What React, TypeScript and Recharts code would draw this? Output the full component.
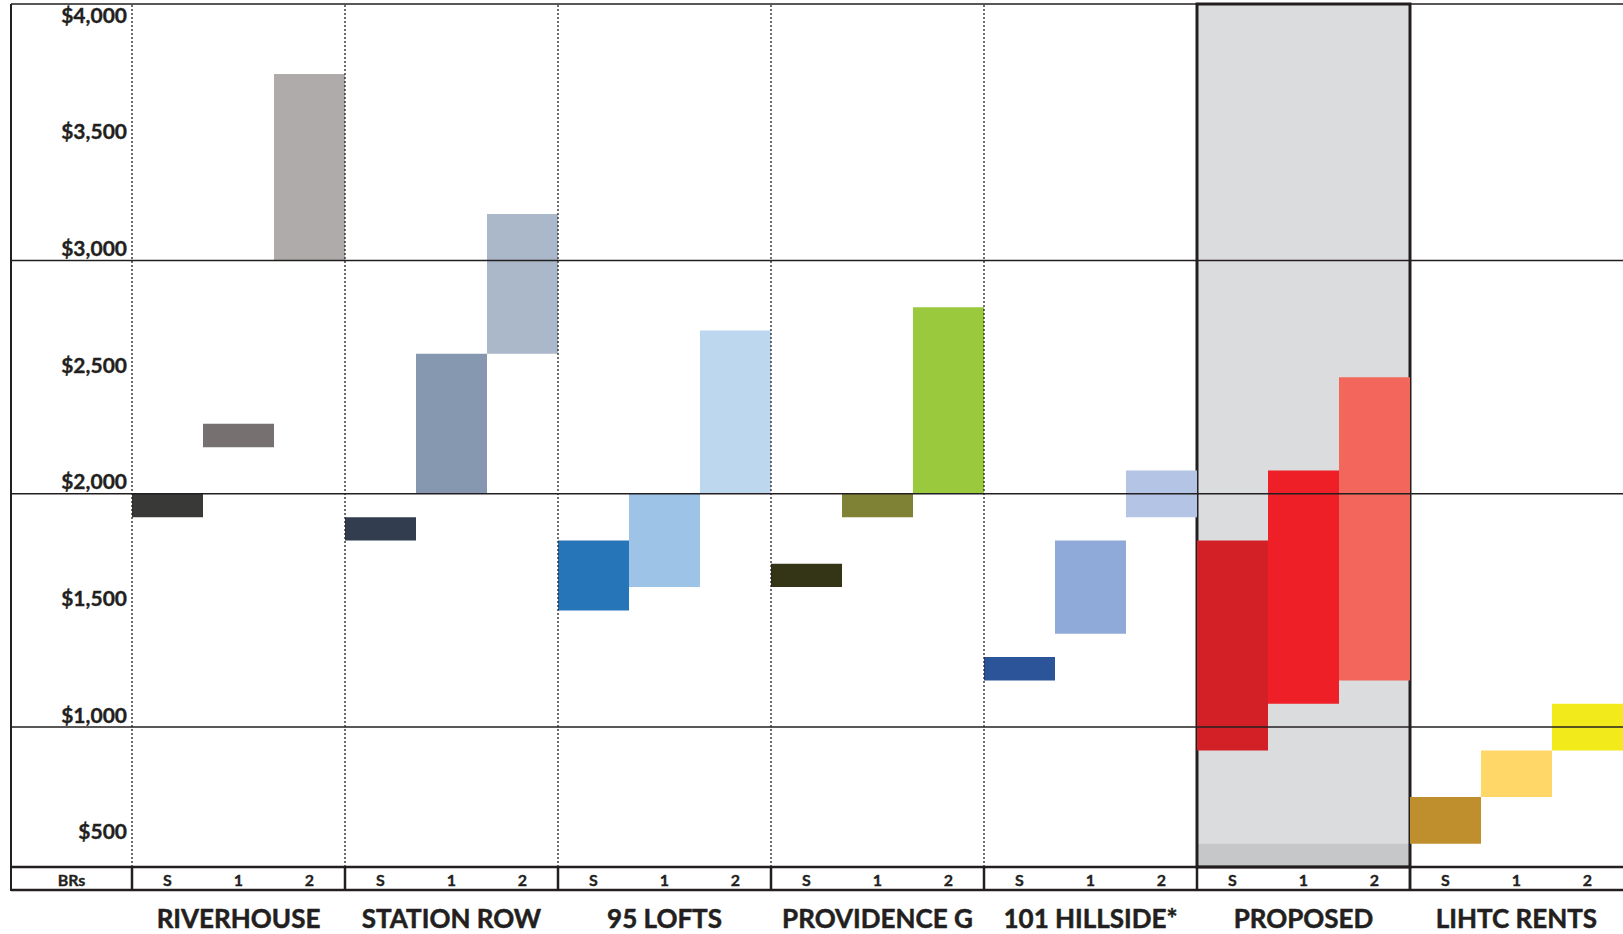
import { BarChart, Bar, Cell, XAxis, YAxis, ReferenceLine, ReferenceArea } from 'recharts'

// rent ranges per property, one entry per unit type (studio, 1 BR, 2 BR)
const groups = ['RIVERHOUSE', 'STATION ROW', '95 LOFTS', 'PROVIDENCE G', '101 HILLSIDE*', 'PROPOSED', 'LIHTC RENTS']
const units = ['S', '1', '2']

const lowRents = [
  [1900, 2200, 3000],
  [1800, 2000, 2600],
  [1500, 1600, 2000],
  [1600, 1900, 2000],
  [1200, 1400, 1900],
  [900, 1100, 1200],
  [500, 700, 900],
]

const highRents = [
  [2000, 2300, 3800],
  [1900, 2600, 3200],
  [1800, 2000, 2700],
  [1700, 2000, 2800],
  [1300, 1800, 2100],
  [1800, 2100, 2500],
  [700, 900, 1100],
]

const barColors = [
  ['#393937', '#767170', '#afabaa'],
  ['#323e50', '#8697b0', '#abb8ca'],
  ['#2675b8', '#9dc3e6', '#bdd8ee'],
  ['#333516', '#7f8235', '#9bc93e'],
  ['#2b5598', '#8faad8', '#b4c4e4'],
  ['#d32026', '#ee1f26', '#f2665c'],
  ['#c08f2d', '#fed768', '#f2ea1a'],
]

const yTicks = [500, 1000, 1500, 2000, 2500, 3000, 3500, 4000]
const gridValues = [1000, 2000, 3000]
const yDomain = [400, 4100]

const W = 1623
const H = 934
const FRAME_LEFT = 11
const Y_AXIS_W = 132
const X_AXIS_H = 67
const TOP = 4
const ROW_H = 23
const INK = '#231f20'
const FONT = 'Lato, "Open Sans", sans-serif'

const data = groups.flatMap((group, gi) =>
  units.map((unit, ui) => ({
    key: `${group}|${unit}`,
    group,
    unit,
    gi,
    ui,
    range: [lowRents[gi][ui], highRents[gi][ui]],
    color: barColors[gi][ui],
  }))
)

const plotBottom = H - X_AXIS_H
const tableBottom = plotBottom + ROW_H
const bandW = (W - Y_AXIS_W) / data.length
const proposed = groups[5]

const boldText = {
  fontFamily: FONT,
  fontWeight: 700,
  fill: INK,
  stroke: INK,
  strokeWidth: 0.35,
  textAnchor: 'middle' as const,
  dominantBaseline: 'central' as const,
}

function RentTick({ y, payload }: any) {
  return (
    <text {...boldText} x={Y_AXIS_W - 5} y={y - 13} textAnchor="end" fontSize={21}>
      ${Number(payload.value).toLocaleString('en-US')}
    </text>
  )
}

function UnitTick({ x, payload }: any) {
  const row = data.find(d => d.key === payload.value)
  if (!row) return null
  const half = bandW / 2
  const line = { stroke: INK, strokeWidth: 2.5 }
  const textY = plotBottom + ROW_H / 2 + 1
  return (
    <g>
      {row.gi === 0 && row.ui === 0 && (
        <g>
          <line x1={FRAME_LEFT} x2={x - half} y1={plotBottom} y2={plotBottom} {...line} />
          <line x1={FRAME_LEFT} x2={x - half} y1={tableBottom} y2={tableBottom} {...line} />
          <line x1={FRAME_LEFT} x2={FRAME_LEFT} y1={TOP} y2={tableBottom + 1} stroke={INK} strokeWidth={2} />
          <text {...boldText} x={(FRAME_LEFT + x - half) / 2} y={textY} fontSize={16}>
            BRs
          </text>
        </g>
      )}
      <line x1={x - half} x2={x + half} y1={plotBottom} y2={plotBottom} {...line} />
      <line x1={x - half} x2={x + half} y1={tableBottom} y2={tableBottom} {...line} />
      {row.ui === 0 && <line x1={x - half} x2={x - half} y1={plotBottom} y2={tableBottom} {...line} />}
      {row.group === proposed && row.ui === 2 && (
        <line x1={x + half} x2={x + half} y1={plotBottom} y2={tableBottom} {...line} />
      )}
      <text {...boldText} x={x} y={textY} fontSize={16}>
        {row.unit}
      </text>
      {row.ui === 1 && (
        <text {...boldText} x={x} y={918} fontSize={26} strokeWidth={0.5}>
          {row.group}
        </text>
      )}
    </g>
  )
}

// horizontal rules run across the label column too
const FullRule = (props: any) => {
  const y = props.y1 ?? props.y
  const x2 = props.x2 ?? W
  return <line x1={FRAME_LEFT} x2={x2} y1={y} y2={y} stroke={INK} strokeWidth={1.5} />
}

export default function App() {
  return (
    <div style={{ width: W, height: H, background: '#fff' }}>
      <style>{'body{margin:0}'}</style>
      <BarChart
        width={W}
        height={H}
        data={data}
        margin={{ top: TOP, right: 0, bottom: 0, left: 0 }}
        barCategoryGap={0}
        barGap={0}
      >
        <XAxis
          dataKey="key"
          height={X_AXIS_H}
          axisLine={false}
          tickLine={false}
          interval={0}
          tick={<UnitTick />}
        />
        <YAxis
          type="number"
          domain={yDomain}
          ticks={yTicks}
          width={Y_AXIS_W}
          axisLine={false}
          tickLine={false}
          allowDataOverflow
          tick={<RentTick />}
        />
        <ReferenceArea
          x1={`${proposed}|S`}
          x2={`${proposed}|2`}
          y1={yDomain[0]}
          y2={yDomain[1]}
          fill="#dbdcde"
          fillOpacity={1}
          stroke="none"
        />
        <ReferenceArea
          x1={`${proposed}|S`}
          x2={`${proposed}|2`}
          y1={400}
          y2={500}
          fill="#c6c7c9"
          fillOpacity={1}
          stroke="none"
        />
        <Bar dataKey="range" isAnimationActive={false}>
          {data.map(d => (
            <Cell key={d.key} fill={d.color} />
          ))}
        </Bar>
        {groups.slice(0, 5).map(g => (
          <ReferenceLine
            key={g}
            x={`${g}|S`}
            position="start"
            stroke={INK}
            strokeWidth={1.3}
            strokeDasharray="2 2"
          />
        ))}
        {gridValues.map(v => (
          <ReferenceLine key={v} y={v} shape={FullRule} />
        ))}
        <ReferenceLine y={yDomain[1]} shape={FullRule} />
        <ReferenceArea
          x1={`${proposed}|S`}
          x2={`${proposed}|2`}
          y1={yDomain[0]}
          y2={yDomain[1]}
          fill="none"
          stroke={INK}
          strokeWidth={3}
        />
      </BarChart>
    </div>
  )
}
